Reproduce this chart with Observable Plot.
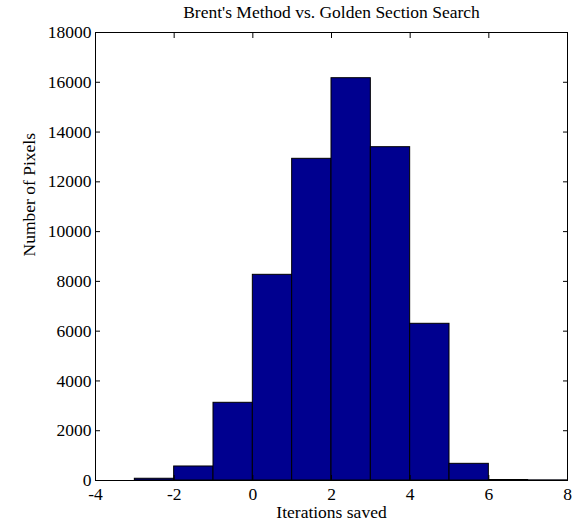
<!DOCTYPE html>
<html>
<head>
<meta charset="utf-8">
<script src="https://cdn.jsdelivr.net/npm/d3@7"></script>
<script src="https://cdn.jsdelivr.net/npm/@observablehq/plot@0.6"></script>
<style>
  html, body { margin: 0; padding: 0; background: white; }
  svg text { font-family: 'Liberation Serif', 'Times New Roman', serif !important; }
</style>
</head>
<body>
<div id="chart"></div>
<script>
const title = "Brent's Method vs. Golden Section Search";
const xLabel = "Iterations saved";
const yLabel = "Number of Pixels";
const binStart = [-4, -3, -2, -1, 0, 1, 2, 3, 4, 5, 6, 7];
const binWidth = 1;
const counts = [0, 70, 563, 3122, 8264, 12925, 16164, 13392, 6296, 670, 20, 5];
const xTicks = [-4, -2, 0, 2, 4, 6, 8];
const yTicks = [0, 2000, 4000, 6000, 8000, 10000, 12000, 14000, 16000, 18000];

const bars = binStart.map((x, i) => ({x1: x, x2: x + binWidth, y: counts[i]}));
const fmt = d => String(d);
const fs = 17.5;
const ff = "'Liberation Serif', 'Times New Roman', serif";

const chart = Plot.plot({
  width: 582,
  height: 521,
  marginLeft: 95,
  marginRight: 15,
  marginTop: 32,
  marginBottom: 41,
  style: {fontFamily: ff, fontSize: fs + "px", background: "white", color: "black"},
  x: {domain: [-4, 8]},
  y: {domain: [0, 18000]},
  marks: [
    Plot.rectY(bars, {x1: "x1", x2: "x2", y: "y", fill: "#00008f", stroke: "black", strokeWidth: 1}),
    Plot.frame({stroke: "black", strokeWidth: 1}),
    Plot.axisX({ticks: xTicks, tickSize: 0, tickPadding: 7, tickFormat: fmt, label: null, fontSize: fs, fontFamily: ff}),
    Plot.axisY({ticks: yTicks, tickSize: 0, tickPadding: 4, tickFormat: fmt, label: null, fontSize: fs, fontFamily: ff}),
    Plot.axisX({ticks: xTicks, anchor: "bottom", tickSize: -5, text: null, label: null}),
    Plot.axisX({ticks: xTicks, anchor: "top", tickSize: -5, text: null, label: null}),
    Plot.axisY({ticks: yTicks, anchor: "left", tickSize: -5, text: null, label: null}),
    Plot.axisY({ticks: yTicks, anchor: "right", tickSize: -5, text: null, label: null}),
    Plot.text([title], {frameAnchor: "top", dy: -20, lineAnchor: "middle", fontSize: fs, fontFamily: ff, fill: "black"}),
    Plot.text([xLabel], {frameAnchor: "bottom", dy: 32, lineAnchor: "middle", fontSize: fs, fontFamily: ff, fill: "black"}),
    Plot.text([yLabel], {frameAnchor: "left", dx: -66, rotate: -90, lineAnchor: "middle", fontSize: fs, fontFamily: ff, fill: "black"})
  ]
});
document.getElementById("chart").append(chart);
</script>
</body>
</html>
